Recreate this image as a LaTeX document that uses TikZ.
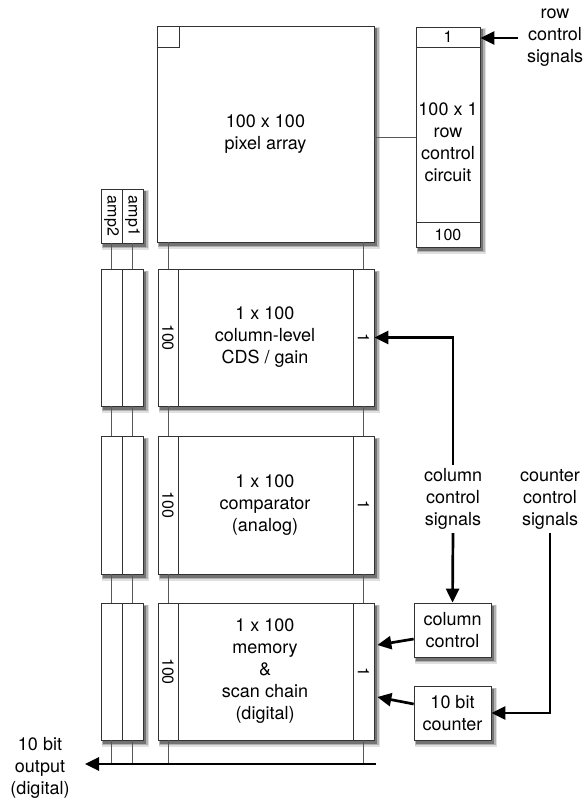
\documentclass[tikz,border=0pt]{standalone}
\usepackage{fontspec}
\setmainfont{TeX Gyre Heros}
\usetikzlibrary{arrows.meta,calc}
\newcommand\shadowbox[4]{%
  \fill[black!12] ({#1+0.5},{#2+1.5}) rectangle ({#3+6},{#4+6.5});
  \fill[black!30] ({#1+1},{#2+2}) rectangle ({#3+4.5},{#4+5});
  \fill[black!55] ({#1+1.5},{#2+2.5}) rectangle ({#3+3},{#4+3.5});}
\begin{document}
\begin{tikzpicture}[x=1pt,y=-1pt,
  box/.style={draw=black!80, fill=white, line width=0.7pt, inner sep=0pt},
  cell/.style={draw=black!80, fill=white, line width=0.7pt, inner sep=0pt},
  wire/.style={draw=black!65, line width=0.7pt},
  sig/.style={line width=2.7pt, -{Triangle[length=14pt,width=13pt]}},
  lbl/.style={align=center, font=\fontsize{18}{22}\selectfont},
  sm/.style={font=\fontsize{16}{18}\selectfont}]
\useasboundingbox (0,0) rectangle (584,802);

% soft shadows
\shadowbox{157}{26}{374}{242}
\shadowbox{416}{27}{480}{247}
\shadowbox{101}{189}{143}{243}
\foreach \t/\b in {269/406,436/574,603/740}{
  \shadowbox{158}{\t}{374}{\b}
  \shadowbox{101}{\t}{143}{\b}
}
\shadowbox{414}{603}{491}{657}
\shadowbox{414}{686}{491}{740}

% pixel array
\node[box, minimum width=217, minimum height=216] (pix) at (265.5,134) {};
\node[cell, minimum width=22, minimum height=21] (pxcell) at (168,36.5) {};
\node[lbl] (pixtxt) at (pix.center) {100 x 100\\pixel array};

% row control circuit
\node[box, minimum width=64, minimum height=220] (rowc) at (448,137) {};
\node[lbl] (rowctxt) at (448,142) {100 x 1\\row\\control\\circuit};
\node[cell, sm, minimum width=64, minimum height=20] (rowc1) at (448,37) {1};
\node[cell, sm, minimum width=64, minimum height=25] (rowc100) at (448,234.5) {100};
\draw[wire] (pix.east |- rowc.west) -- (rowc.west);

\node[lbl] (rcs) at (555,38) {row\\control\\signals};
\coordinate (rcsend) at (518,38);
\draw[sig] (rcsend) -- (rcsend -| rowc1.east);

% amp labels
\node[box, minimum width=42, minimum height=54] (ampl) at (122,216) {};
\node[cell, minimum width=21, minimum height=54] (amp2l) at (111.5,216) {};
\node[cell, minimum width=21, minimum height=54] (amp1l) at (132.5,216) {};
\node[sm, rotate=-90] at (amp2l) {amp2};
\node[sm, rotate=-90] at (amp1l) {amp1};

% column blocks
\foreach \i/\t/\b in {1/269/406,2/436/574,3/603/740}{
  \node[box, minimum width=216, minimum height={\b-\t}] (blk\i) at (266,{(\t+\b)/2}) {};
  \node[cell, minimum width=20, minimum height={\b-\t}] (lc\i) at (168,{(\t+\b)/2}) {};
  \node[sm, rotate=-90] at (lc\i) {100};
  \node[cell, minimum width=21, minimum height={\b-\t}] (rc\i) at (363.5,{(\t+\b)/2}) {};
  \node[sm, rotate=-90] at (rc\i) {1};
  \node[box, minimum width=42, minimum height={\b-\t}] (amp\i) at (122,{(\t+\b)/2}) {};
  \node[cell, minimum width=21, minimum height={\b-\t}] (ampB\i) at (111.5,{(\t+\b)/2}) {};
  \node[cell, minimum width=21, minimum height={\b-\t}] (ampA\i) at (132.5,{(\t+\b)/2}) {};
}
\node[lbl] at (265,337.5) {1 x 100\\column-level\\CDS / gain};
\node[lbl] at (265,505) {1 x 100\\comparator\\(analog)};
\node[lbl] at (265,671.5) {1 x 100\\memory\\\&\\scan chain\\(digital)};

% vertical wires
\draw[wire] (lc1.north) -- (lc1.north |- pix.south);
\draw[wire] (rc1.north) -- (rc1.north |- pix.south);
\draw[wire] (ampB1.north) -- (ampB1.north |- amp2l.south);
\draw[wire] (ampA1.north) -- (ampA1.north |- amp1l.south);
\draw[wire] (lc2.north) -- (lc1.south);
\draw[wire] (rc2.north) -- (rc1.south);
\draw[wire] (ampB2.north) -- (ampB1.south);
\draw[wire] (ampA2.north) -- (ampA1.south);
\draw[wire] (lc3.north) -- (lc2.south);
\draw[wire] (rc3.north) -- (rc2.south);
\draw[wire] (ampB3.north) -- (ampB2.south);
\draw[wire] (ampA3.north) -- (ampA2.south);

% output bus
\coordinate (busR) at (376,764);
\coordinate (busL) at (85,764);
\draw[wire] (lc3.south) -- (lc3.south |- busR);
\draw[wire] (rc3.south) -- (rc3.south |- busR);
\draw[wire] (ampB3.south) -- (ampB3.south |- busR);
\draw[wire] (ampA3.south) -- (ampA3.south |- busR);
\draw[sig] (busR) -- (busL);
\node[lbl] (outtxt) at (40,768) {10 bit\\output\\(digital)};

% control signals
\node[lbl] (ccs) at (453,499) {column\\control\\signals};
\node[lbl] (cts) at (550,499) {counter\\control\\signals};
\draw[sig] (ccs.north) |- (rc1.east);

\node[box, lbl, minimum width=77, minimum height=54] (colctl) at (452.5,630) {column\\control};
\node[box, lbl, minimum width=77, minimum height=54] (cnt) at (452.5,713) {10 bit\\counter};
\draw[sig] (ccs.south) -- (colctl.north);
\draw[sig] (cts.south) |- (cnt.east);

\draw[sig] ($(colctl.west)+(0,9)$) -- ($(rc3.east)+(3,-26.5)$);
\draw[sig] ($(cnt.west)+(0,-9)$) -- ($(rc3.east)+(3,25.5)$);
\end{tikzpicture}
\end{document}
